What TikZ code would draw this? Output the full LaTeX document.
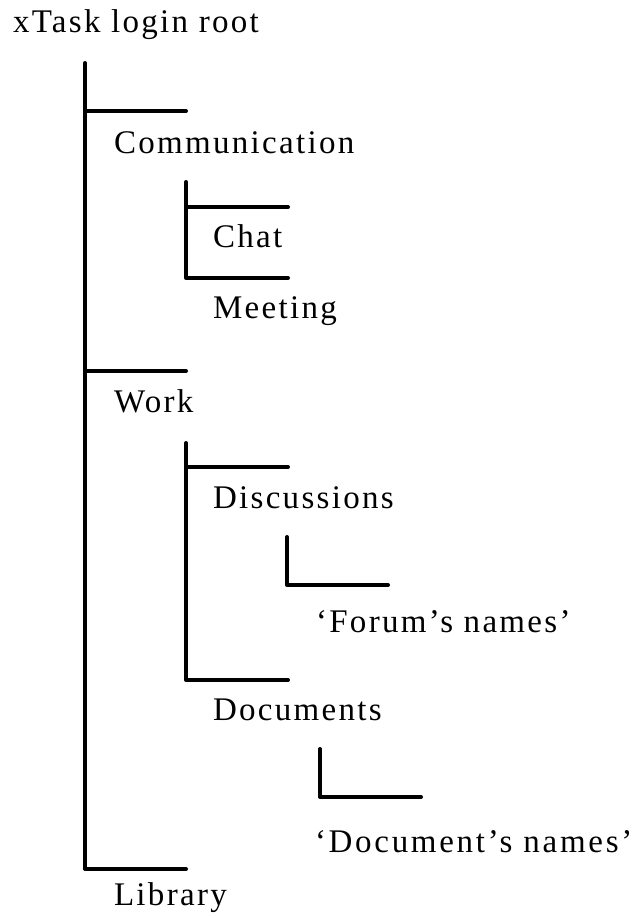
\documentclass[tikz,border=0pt]{standalone}
\usepackage{fontspec}
\setmainfont{Liberation Serif}[LetterSpace=7]
\begin{document}
\begin{tikzpicture}[x=1pt,y=-1pt,
  label/.style={anchor=base west,inner sep=0pt,outer sep=0pt,font=\fontsize{33}{38}\selectfont},
  wide/.style={font=\fontsize{33}{38}\selectfont\addfontfeatures{LetterSpace=8.2}},
  branch/.style={line width=4pt,line cap=round,line join=round}]
\useasboundingbox (0,0) rectangle (635,918);

% item labels
\node[label] (root) at (13,32) {xTask login root};
\node[label] (comm) at (114,153) {Communication};
\node[label] (chat) at (213,247) {Chat};
\node[label] (meet) at (213,318) {Meeting};
\node[label] (work) at (114,412) {Work};
\node[label] (disc) at (213,508) {Discussions};
\node[label] (forum) at (316,632) {`Forum's names'};
\node[label] (docs) at (213,720) {Documents};
\node[label,wide] (docnames) at (315,852) {`Document's names'};
\node[label] (lib) at (114,905) {Library};

% branch end points
\coordinate (t0) at (85,63);
\coordinate (commbar) at (186,111);
\coordinate (workbar) at (186,371);
\coordinate (libbar) at (186,869);
\coordinate (c0) at (186,182);
\coordinate (chatbar) at (288,207);
\coordinate (meetbar) at (288,278);
\coordinate (w0) at (186,443);
\coordinate (discbar) at (288,467);
\coordinate (docsbar) at (288,680);
\coordinate (f0) at (287,537);
\coordinate (forumbar) at (388,585);
\coordinate (d0) at (320,749);
\coordinate (docnamesbar) at (421,797);

% top level
\draw[branch] (t0) |- (libbar);
\draw[branch] (t0 |- commbar) -- (commbar);
\draw[branch] (t0 |- workbar) -- (workbar);
% communication
\draw[branch] (c0) |- (meetbar);
\draw[branch] (c0 |- chatbar) -- (chatbar);
% work
\draw[branch] (w0) |- (docsbar);
\draw[branch] (w0 |- discbar) -- (discbar);
% discussions and documents
\draw[branch] (f0) |- (forumbar);
\draw[branch] (d0) |- (docnamesbar);
\end{tikzpicture}
\end{document}
